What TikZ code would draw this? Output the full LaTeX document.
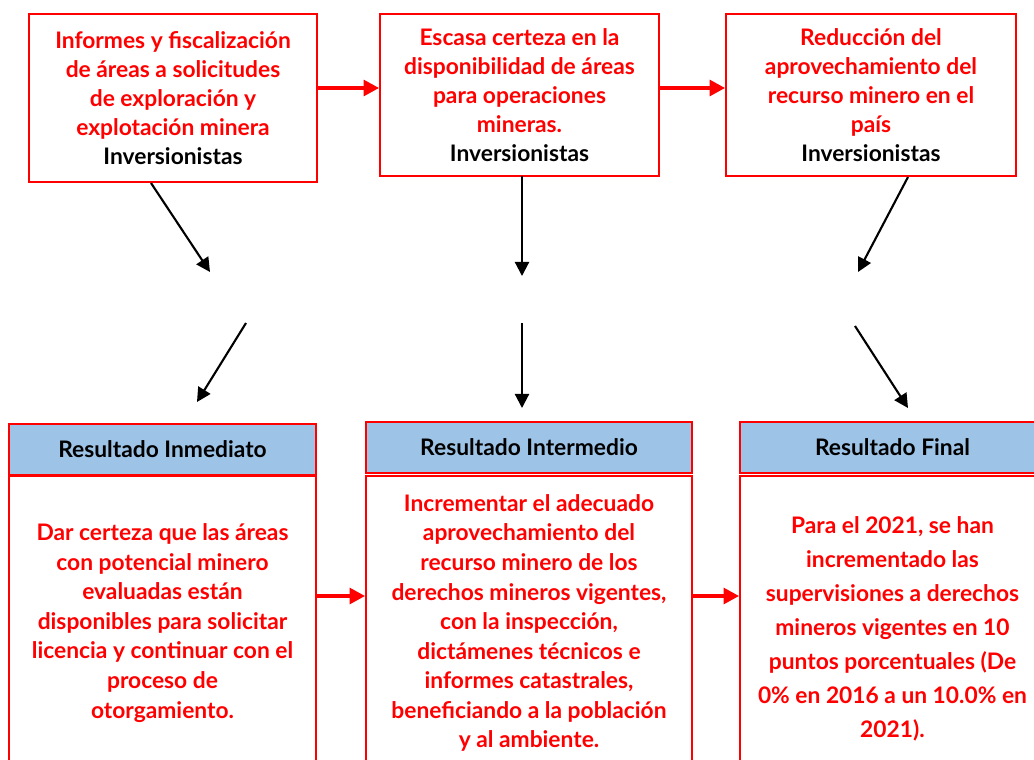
\documentclass[tikz,border=0pt]{standalone}
\usepackage{fontspec}
\setmainfont{Lato}
\usetikzlibrary{arrows.meta}
\definecolor{rojo}{RGB}{255,0,0}
\definecolor{azulcab}{RGB}{157,195,230}

\tikzset{
  causa/.style={draw=rojo, line width=1.1pt, align=center, text=rojo,
    font=\bfseries\fontsize{16.2}{20.6}\selectfont},
  cabecera/.style={draw=rojo, line width=1.1pt, fill=azulcab, align=center,
    minimum height=1.275cm, font=\bfseries\fontsize{16.2}{18}\selectfont},
  cuerpo/.style={draw=rojo, line width=1.1pt, align=center, text=rojo,
    font=\bfseries\fontsize{16.2}{21}\selectfont},
  flecharoja/.style={draw=rojo, line width=3.5pt, -{Triangle[length=11pt,width=11pt]}},
  flechanegra/.style={line width=1.5pt, -{Triangle[length=10pt,width=10pt]}}
}

\begin{document}
\begin{tikzpicture}[x=0.025cm,y=-0.025cm]
  \useasboundingbox (0,0) rectangle (1034,759);
  \clip (0,0) rectangle (1034,759);

  % problemas
  \node[causa, minimum width=7.2cm, minimum height=4.2cm] (c1) at (173,98)
    {Informes y fiscalización\\de áreas a solicitudes\\de exploración y\\explotación minera\\
     \textcolor{black}{Inversionistas}};
  \node[causa, minimum width=6.975cm, minimum height=4.05cm] (c2) at (519.5,95)
    {Escasa certeza en la\\disponibilidad de áreas\\para operaciones\\mineras.\\
     \textcolor{black}{Inversionistas}};
  \node[causa, minimum width=7.25cm, minimum height=4.05cm] (c3) at (871,95)
    {Reducción del\\aprovechamiento del\\recurso minero en el\\país\\
     \textcolor{black}{Inversionistas}};

  \draw[flecharoja] (c1.east |- 0,88) -- (c2.west |- 0,88);
  \draw[flecharoja] (c2.east |- 0,88) -- (c3.west |- 0,88);

  % resultados
  \node[cabecera, minimum width=7.675cm] (r1h) at (162.5,449.5) {Resultado Inmediato};
  \node[cabecera, minimum width=8.15cm] (r2h) at (529,447.5) {Resultado Intermedio};
  \node[cabecera, minimum width=7.625cm] (r3h) at (892.5,447.5) {Resultado Final};

  \node[cuerpo, minimum width=7.675cm, minimum height=7.35cm] (r1b) at (162.5,623)
    {Dar certeza que las áreas\\con potencial minero\\evaluadas están\\disponibles para solicitar\\
     licencia y continuar con el\\proceso de\\otorgamiento.};
  \node[cuerpo, minimum width=8.15cm, minimum height=7.35cm] (r2b) at (529,623)
    {Incrementar el adecuado\\aprovechamiento del\\recurso minero de los\\derechos mineros vigentes,\\
     con la inspección,\\dictámenes técnicos e\\informes catastrales,\\beneficiando a la población\\
     y al ambiente.};
  \node[cuerpo, minimum width=7.625cm, minimum height=7.65cm,
        font=\bfseries\fontsize{16.2}{24.2}\selectfont] (r3b) at (892.5,629)
    {Para el 2021, se han\\incrementado las\\supervisiones a derechos\\mineros vigentes en 10\\
     puntos porcentuales (De\\0\% en 2016 a un 10.0\% en\\2021).};

  \draw[flecharoja] (r1b.east |- 0,596) -- (r2b.west |- 0,596);
  \draw[flecharoja] (r2b.east |- 0,596) -- (r3b.west |- 0,596);

  % flechas entre niveles
  \coordinate (a1) at (151,183);  \coordinate (b1) at (210,272);
  \coordinate (a2) at (246,323);  \coordinate (b2) at (197,402);
  \coordinate (a3) at (522,176);  \coordinate (b3) at (522,276);
  \coordinate (a4) at (522,323);  \coordinate (b4) at (522,408);
  \coordinate (a5) at (908,177);  \coordinate (b5) at (858,272);
  \coordinate (a6) at (855,326);  \coordinate (b6) at (908,408);
  \foreach \i in {1,...,6}
  \draw[flechanegra] (a\i) -- (b\i);
\end{tikzpicture}
\end{document}
